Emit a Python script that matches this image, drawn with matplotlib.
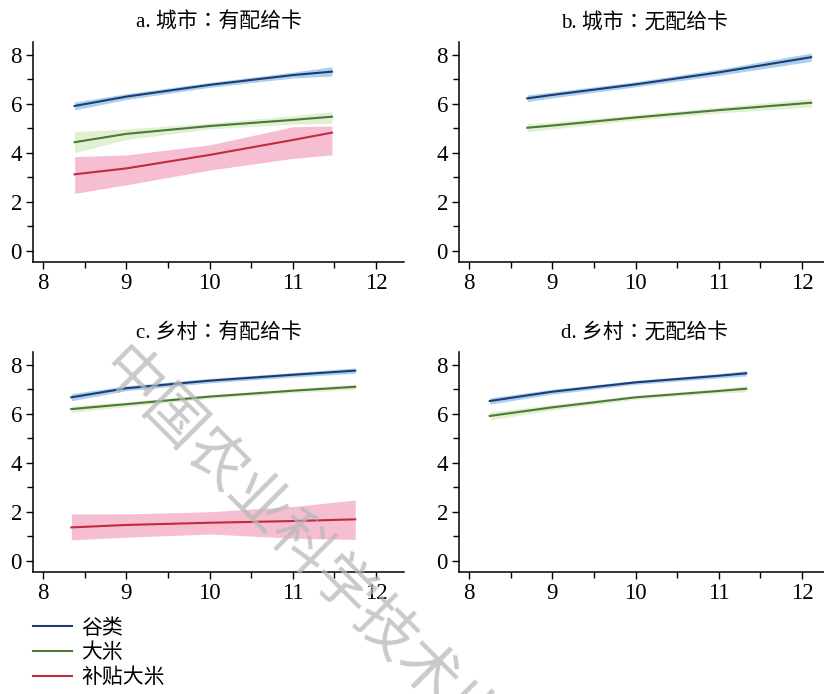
import matplotlib
matplotlib.use("Agg")
from matplotlib import pyplot as plt
from matplotlib.ticker import MultipleLocator

plt.rcParams['font.family'] = ['Liberation Serif', 'Noto Sans CJK TC']

# series labels and panel titles
labels = ["谷类", "大米", "补贴大米"]
titles = ["a. 城市：有配给卡", "b. 城市：无配给卡", "c. 乡村：有配给卡", "d. 乡村：无配给卡"]

# panel a: city, with ration card
a_x = [8.38, 9, 10, 11, 11.47]
a_grain = [5.92, 6.30, 6.78, 7.18, 7.32]
a_grain_lo = [5.76, 6.18, 6.68, 7.06, 7.14]
a_grain_hi = [6.08, 6.42, 6.88, 7.30, 7.52]
a_rice = [4.44, 4.78, 5.10, 5.35, 5.48]
a_rice_lo = [4.01, 4.55, 4.98, 5.18, 5.21]
a_rice_hi = [4.87, 4.98, 5.22, 5.52, 5.69]
a_sub = [3.13, 3.37, 3.92, 4.53, 4.83]
a_sub_lo = [2.35, 2.70, 3.30, 3.78, 3.92]
a_sub_hi = [3.85, 3.92, 4.33, 5.07, 5.10]

# panel b: city, no ration card
b_x = [8.70, 9, 10, 11, 12.11]
b_grain = [6.23, 6.37, 6.80, 7.29, 7.91]
b_grain_lo = [6.10, 6.25, 6.70, 7.17, 7.74]
b_grain_hi = [6.37, 6.49, 6.91, 7.42, 8.08]
b_rice = [5.03, 5.12, 5.45, 5.75, 6.05]
b_rice_lo = [4.86, 4.98, 5.34, 5.63, 5.88]
b_rice_hi = [5.20, 5.26, 5.56, 5.87, 6.22]

# panel c: rural, with ration card
c_x = [8.34, 9, 10, 11, 11.75]
c_grain = [6.68, 7.05, 7.36, 7.60, 7.77]
c_grain_lo = [6.54, 6.95, 7.27, 7.51, 7.66]
c_grain_hi = [6.83, 7.15, 7.45, 7.69, 7.88]
c_rice = [6.20, 6.40, 6.71, 6.95, 7.11]
c_rice_lo = [6.07, 6.30, 6.63, 6.87, 7.00]
c_rice_hi = [6.33, 6.50, 6.79, 7.03, 7.22]
c_sub = [1.37, 1.47, 1.56, 1.63, 1.70]
c_sub_lo = [0.86, 0.97, 1.10, 0.93, 0.88]
c_sub_hi = [1.92, 1.92, 2.01, 2.22, 2.49]

# panel d: rural, no ration card
d_x = [8.25, 9, 10, 11, 11.33]
d_grain = [6.53, 6.91, 7.29, 7.56, 7.66]
d_grain_lo = [6.40, 6.81, 7.21, 7.47, 7.55]
d_grain_hi = [6.66, 7.01, 7.37, 7.65, 7.77]
d_rice = [5.92, 6.27, 6.68, 6.94, 7.03]
d_rice_lo = [5.76, 6.16, 6.60, 6.85, 6.90]
d_rice_hi = [6.08, 6.38, 6.76, 7.03, 7.16]

line_colors = ["#1c3c72", "#4b7a34", "#c22a3e"]
band_colors = ["#9cc8ec", "#dcedcc", "#f5b3ca"]

W, H = 824, 694
fig = plt.figure(figsize=(W / 100, H / 100), dpi=100)

# axes boxes in pixels: left, top, right, bottom
boxes = [(33, 42, 404, 262), (459, 42, 830, 262),
         (33, 352, 404, 572), (459, 352, 830, 572)]

panels = [
    (a_x, [(a_grain, a_grain_lo, a_grain_hi), (a_rice, a_rice_lo, a_rice_hi), (a_sub, a_sub_lo, a_sub_hi)]),
    (b_x, [(b_grain, b_grain_lo, b_grain_hi), (b_rice, b_rice_lo, b_rice_hi)]),
    (c_x, [(c_grain, c_grain_lo, c_grain_hi), (c_rice, c_rice_lo, c_rice_hi), (c_sub, c_sub_lo, c_sub_hi)]),
    (d_x, [(d_grain, d_grain_lo, d_grain_hi), (d_rice, d_rice_lo, d_rice_hi)]),
]

handles = []
for i, (box, (xs, series)) in enumerate(zip(boxes, panels)):
    l, t, r, b = box
    ax = fig.add_axes([l / W, 1 - b / H, (r - l) / W, (b - t) / H])
    for j, (y, lo, hi) in enumerate(series):
        ax.fill_between(xs, lo, hi, color=band_colors[j], lw=0, alpha=0.85)
        ln, = ax.plot(xs, y, color=line_colors[j], lw=1.5, label=labels[j])
        if i == 0:
            handles.append(ln)
    ax.set_xlim(7.88, 12.336)
    ax.set_ylim(-0.45, 8.53)
    ax.xaxis.set_major_locator(MultipleLocator(1))
    ax.xaxis.set_minor_locator(MultipleLocator(0.5))
    ax.yaxis.set_major_locator(MultipleLocator(2))
    ax.yaxis.set_minor_locator(MultipleLocator(1))
    for s in ["top", "right"]:
        ax.spines[s].set_visible(False)
    for s in ["left", "bottom"]:
        ax.spines[s].set_linewidth(1.1)
    ax.tick_params(which="major", direction="out", length=5, width=1.0, labelsize=16.5, pad=3)
    ax.tick_params(which="minor", direction="out", length=4, width=1.0)
    ax.set_title(titles[i], fontsize=15, pad=10)

fig.legend(handles=handles, labels=labels, loc="upper left",
           bbox_to_anchor=(33 / W, 1 - 619 / H), frameon=False,
           fontsize=15, handlelength=1.85, handletextpad=0.45,
           labelspacing=0.25, borderpad=0, borderaxespad=0)

# watermark from the source page
fig.text(109 / W, 1 - 359 / H, "中国农业科学技术出版社", fontsize=43,
         family=["Noto Sans CJK SC"], color="#b8b8b8", alpha=0.75,
         rotation=-45, rotation_mode="anchor", ha="left", va="center",
         zorder=10)

fig.savefig("out.png", dpi=100)
